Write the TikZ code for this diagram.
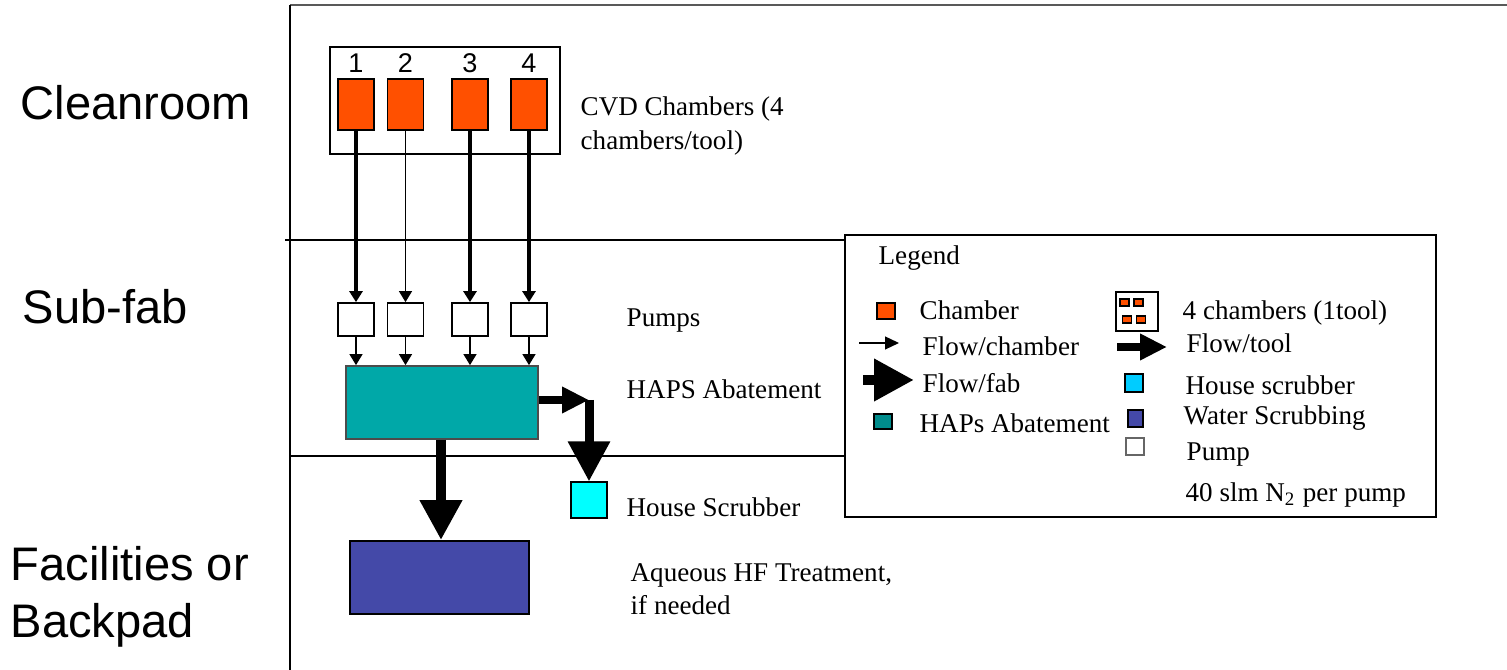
\documentclass[tikz,border=0pt]{standalone}
\usepackage{fontspec}
\setmainfont{Liberation Serif}
\newfontfamily\arialfont{Liberation Sans}
\usetikzlibrary{arrows.meta}

\definecolor{chamberred}{RGB}{255,80,0}
\definecolor{hapsteal}{RGB}{0,168,168}
\definecolor{hapsdark}{RGB}{0,140,140}
\definecolor{scrubcyan}{RGB}{0,255,255}
\definecolor{scrubsky}{RGB}{0,204,255}
\definecolor{waterblue}{RGB}{68,73,168}

\begin{document}
\begin{tikzpicture}[x=0.1mm, y=-0.1mm, >={Triangle[length=1.1mm,width=1.3mm]},
  txt/.style={anchor=west, inner sep=0pt, align=left, font=\fontsize{7.7}{9.4}\selectfont},
  zone/.style={anchor=west, inner sep=0pt, align=left, font=\arialfont\fontsize{13.4}{16.2}\selectfont},
  num/.style={inner sep=0pt, font=\arialfont\fontsize{7.7}{9}\selectfont},
  box/.style={draw, inner sep=0pt, line width=0.3pt},
  chamber/.style={box, fill=chamberred, minimum width=3.6mm, minimum height=5.1mm},
  pump/.style={box, line width=0.5pt, minimum width=3.6mm, minimum height=3.3mm},
  toolflow/.style={line width=0.75mm, -{Triangle[length=2.7mm,width=2.5mm]}},
  fabflow/.style={line width=1mm, -{Triangle[length=4mm,width=4mm]}}]
  \useasboundingbox (0,0) rectangle (1507,670);

  % Frame and zones
  \draw[line width=0.6pt, black!65] (290,5) -- (1507,5);
  \draw[line width=0.4pt] (290,5) -- (290,670);
  \draw[line width=0.5pt] (285,240) -- (845,240);
  \draw[line width=0.5pt] (290,456) -- (845,456);
  \node[zone] (cleanroom) at (20,103) {Cleanroom};
  \node[zone] (subfab) at (22,307) {Sub-fab};
  \node[zone] (facilities) at (10,597) {Facilities or\\Backpad};

  % Tool with its chambers and pumps
  \node[box, minimum width=23mm, minimum height=10.7mm] (tool) at (445,100.5) {};
  \foreach \i/\x in {1/356,2/405.5,3/470,4/529} {
    \node[chamber] (ch\i) at (\x,104.5) {};
    \node[num] (n\i) at (\x,63) {\i};
    \node[pump] (p\i) at (\x,319.5) {};
  }
  \node[txt] (cvd) at (580,126) {CVD Chambers (4\\chambers/tool)};
  \node[txt] (pumps) at (626,321) {Pumps};

  % Abatement and scrubbing
  \node[box, line width=0.5pt, draw=black!70, fill=hapsteal, minimum width=19.2mm, minimum height=7.3mm] (haps) at (442,402.5) {};
  \node[box, fill=scrubcyan, minimum width=3.6mm, minimum height=3.6mm] (scrub) at (589,500) {};
  \node[box, line width=0.5pt, fill=waterblue, minimum width=17.9mm, minimum height=7.3mm] (water) at (439.5,577.5) {};
  \node[txt] (hapslabel) at (626,389) {HAPS Abatement};
  \node[txt] (scrublabel) at (626,507) {House Scrubber};
  \node[txt] (waterlabel) at (630,589) {Aqueous HF Treatment,\\if needed};

  % Flows
  \foreach \i/\w in {1/0.9pt,2/0.35pt,3/0.9pt,4/0.9pt} {
    \draw[->, line width=\w] (ch\i) -- (p\i);
    \draw[->, line width=0.35pt] (p\i) -- (p\i |- haps.north);
  }
  \coordinate (turn) at (589,400);
  \draw[toolflow] (haps.east |- turn) -- (turn);
  \draw[fabflow, line width=0.9mm] (turn) -- (scrub.north);
  \draw[fabflow] (haps.south -| 441,0) -- (water.north -| 441,0);

  % Legend
  \node[box, minimum width=59.1mm, minimum height=28.2mm] (legend) at (1140.5,376) {};
  \node[txt] (legendtitle) at (878,258) {Legend};
  \node[box, fill=chamberred, minimum width=1.8mm, minimum height=1.6mm] (kchamber) at (886,311) {};
  \node[txt] (lchamber) at (919,310) {Chamber};
  \coordinate (kflowa) at (859,343);
  \coordinate (kflowb) at (899,343);
  \draw[-{Triangle[length=1.4mm,width=1.3mm]}, line width=0.35pt] (kflowa) -- (kflowb);
  \node[txt] (lflowchamber) at (922,346) {Flow/chamber};
  \coordinate (kfaba) at (863,380);
  \coordinate (kfabb) at (914,380);
  \draw[fabflow] (kfaba) -- (kfabb);
  \node[txt] (lflowfab) at (922,383) {Flow/fab};
  \node[box, line width=0.5pt, fill=hapsdark, minimum width=1.8mm, minimum height=1.5mm] (khaps) at (883,421.5) {};
  \node[txt] (lhaps) at (919,423) {HAPs Abatement};

  \node[box, minimum width=4.2mm, minimum height=3.9mm] (ktool) at (1137,311.5) {};
  \foreach \x/\y in {1124.5/302.5,1138.5/302.5,1127/319.5,1141/319.5}
    \node[box, fill=chamberred, minimum width=0.9mm, minimum height=0.7mm] at (\x,\y) {};
  \node[txt] (ltool) at (1182,313) {4 chambers (1tool)};
  \coordinate (ktoola) at (1117,347);
  \coordinate (ktoolb) at (1167,347);
  \draw[toolflow] (ktoola) -- (ktoolb);
  \node[txt] (lflowtool) at (1186,343) {Flow/tool};
  \node[box, line width=0.6pt, fill=scrubsky, minimum width=1.8mm, minimum height=1.8mm] (kscrub) at (1134,383) {};
  \node[txt] (lscrub) at (1185,385) {House scrubber};
  \node[box, line width=0.6pt, fill=waterblue, minimum width=1.5mm, minimum height=1.7mm] (kwater) at (1135.5,418.5) {};
  \node[txt] (lwater) at (1183,418) {Water Scrubbing};
  \node[box, draw=black!60, line width=0.4pt, minimum width=1.8mm, minimum height=1.7mm] (kpump) at (1135,446.5) {};
  \node[txt] (lpump) at (1186,455) {Pump};
  \node[txt] (lnitrogen) at (1185,495) {40 slm N\textsubscript{2} per pump};
\end{tikzpicture}
\end{document}
